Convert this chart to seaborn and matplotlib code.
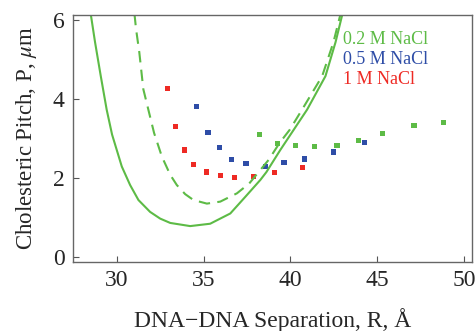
import matplotlib
matplotlib.use("Agg")
import matplotlib.pyplot as plt
import seaborn as sns
import numpy as np

# ---- data ----
red_x = [32.92, 33.40, 33.88, 34.42, 35.19, 35.98, 36.77, 37.88, 39.10, 40.71]
red_y = [4.26, 3.30, 2.71, 2.34, 2.15, 2.07, 2.02, 2.04, 2.14, 2.27]

blue_x = [34.58, 35.25, 35.90, 36.60, 37.44, 38.56, 39.63, 40.81, 42.50, 44.29]
blue_y = [3.82, 3.15, 2.77, 2.47, 2.37, 2.29, 2.39, 2.48, 2.66, 2.89]

green_x = [38.21, 39.25, 40.31, 41.40, 42.69, 43.90, 45.31, 47.12, 48.81]
green_y = [3.11, 2.88, 2.83, 2.79, 2.82, 2.94, 3.13, 3.32, 3.40]

solid_x = [28.50, 28.75, 29.08, 29.42, 29.73, 30.29, 30.77, 31.25, 31.92, 32.50, 33.08, 34.23,
           35.38, 36.54, 37.40, 38.27, 38.62, 39.42, 40.19, 40.96, 42.02, 42.60, 43.00]
solid_y = [6.16, 5.44, 4.58, 3.73, 3.10, 2.29, 1.82, 1.44, 1.14, 0.97, 0.86, 0.78,
           0.84, 1.10, 1.52, 1.95, 2.15, 2.71, 3.22, 3.73, 4.58, 5.44, 6.16]

dash_x = [31.02, 31.11, 31.30, 31.53, 31.82, 32.15, 32.60, 33.08, 33.46, 33.94, 34.42,
          35.19, 35.96, 36.92, 37.63, 38.75, 39.38, 39.96, 40.67, 41.83, 42.48, 42.89]
dash_y = [6.16, 5.78, 5.18, 4.25, 3.73, 3.14, 2.54, 2.08, 1.82, 1.59, 1.44,
          1.35, 1.40, 1.61, 1.86, 2.46, 2.89, 3.22, 3.73, 4.58, 5.44, 6.16]

series_labels = ["0.2 M NaCl", "0.5 M NaCl", "1 M NaCl"]
x_ticks = [30, 35, 40, 45, 50]
y_ticks = [0, 2, 4, 6]

GREEN = "#5DBB46"
BLUE = "#2E4DA7"
RED = "#EE2A24"

sns.set_style("white")
plt.rcParams['font.family'] = ['Liberation Serif', 'DejaVu Serif']
plt.rcParams['mathtext.fontset'] = 'stix'

fig = plt.figure(figsize=(4.75, 3.31), dpi=100)
ax = fig.add_axes([73/475, 1-262/331, (472-73)/475, (262-15)/331])

sns.lineplot(x=solid_x, y=solid_y, sort=False, estimator=None, ax=ax,
             color=GREEN, lw=1.5)
sns.lineplot(x=dash_x, y=dash_y, sort=False, estimator=None, ax=ax,
             color=GREEN, lw=1.5, dashes=False, linestyle=(0, (5.5, 3.5)))
for ln in ax.lines:
    ln.set_solid_joinstyle('round')
    ln.set_dash_joinstyle('round')

for xs, ys, c in [(red_x, red_y, RED), (blue_x, blue_y, BLUE), (green_x, green_y, GREEN)]:
    sns.scatterplot(x=xs, y=ys, ax=ax, color=c, marker='s', s=14,
                    edgecolor='none', linewidth=0)

ax.set_xlim(27.48, 50.46)
ax.set_ylim(-0.13, 6.13)
ax.set_xticks(x_ticks)
ax.set_yticks(y_ticks)
ax.tick_params(direction='in', length=4, width=0.8, color='#555555',
               labelsize=17, pad=6, bottom=True, left=True, top=False, right=False)
for sp in ax.spines.values():
    sp.set_color('#666666')
    sp.set_linewidth(1.0)

ax.set_xlabel("DNA\u2212DNA Separation, R, \u00c5", fontsize=17, labelpad=12)
ax.set_ylabel("Cholesteric Pitch, P, $\\mu$m", fontsize=16.5, labelpad=10)

for i, (lab, c) in enumerate(zip(series_labels, [GREEN, BLUE, RED])):
    ax.text(0.677, 0.899 - i * 0.081, lab, transform=ax.transAxes, color=c,
            fontsize=13, va='center', ha='left')

fig.savefig("out.png", dpi=100)
